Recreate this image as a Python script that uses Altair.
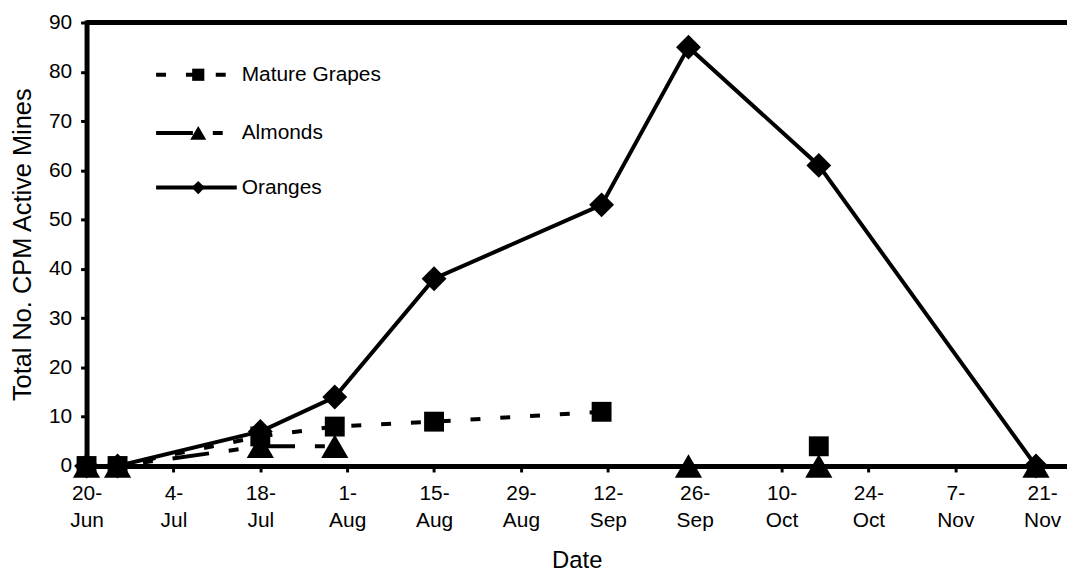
import altair as alt
import pandas as pd

# ---------------- data ----------------
dates = ["2001-06-20", "2001-06-25", "2001-07-18", "2001-07-30", "2001-08-15",
         "2001-09-11", "2001-09-25", "2001-10-16", "2001-11-20"]
mature_grapes = [0, 0, 6, 8, 9, 11, None, 4, None]
almonds = [0, 0, 4, 4, None, None, 0, 0, 0]
oranges = [0, 0, 7, 14, 38, 53, 85, 61, 0]
series_names = ["Mature Grapes", "Almonds", "Oranges"]
series_values = [mature_grapes, almonds, oranges]

tick_dates = ["2001-06-20", "2001-07-04", "2001-07-18", "2001-08-01", "2001-08-15",
              "2001-08-29", "2001-09-12", "2001-09-26", "2001-10-10", "2001-10-24",
              "2001-11-07", "2001-11-21"]
y_ticks = [0, 10, 20, 30, 40, 50, 60, 70, 80, 90]
x_domain = ["2001-06-20", "2001-11-25"]
y_domain = [0, 90]

# ---------------- styles / layout ----------------
FONT = "Liberation Sans"
STYLE = {
    "Mature Grapes": dict(shape="square", size=400, dash=[10, 20], leg_size=150),
    "Almonds": dict(shape="triangle-up", size=750, dash=[37, 20, 10, 20], leg_size=260),
    "Oranges": dict(shape="diamond", size=625, dash=None, leg_size=180),
}
LEG_ROWS = [79.4, 67.6, 56.5]
LEG_X0, LEG_X1 = "2001-07-01T05:00:00Z", "2001-07-14T05:00:00Z"
LEG_XM, LEG_XT = "2001-07-08T00:00:00Z", "2001-07-15T00:00:00Z"


def to_ms(s):
    return int(pd.Timestamp(s, tz="UTC").value // 10**6)


xscale = alt.Scale(type="utc", domain=[to_ms(d) for d in x_domain], nice=False)
yscale = alt.Scale(domain=y_domain, nice=False, zero=True)

xaxis = alt.Axis(
    values=[to_ms(d) for d in tick_dates],
    labelExpr="[utcFormat(datum.value, '%-d') + '-', utcFormat(datum.value, '%b')]",
    labelFont=FONT, labelFontSize=21, labelColor="black", labelLineHeight=27,
    labelPadding=11, labelFlush=False, labelOverlap=False, labelBound=False,
    labelAlign="center",
    tickSize=6, tickWidth=3, tickColor="black",
    domainColor="black", domainWidth=5, domainCap="square",
    grid=False, title="Date", titleFont=FONT, titleFontSize=24,
    titleFontWeight="normal", titleColor="black", titlePadding=18,
)
yaxis = alt.Axis(
    values=y_ticks, labelFont=FONT, labelFontSize=21, labelColor="black",
    labelPadding=9, labelFlush=False, labelOverlap=False,
    tickSize=6, tickWidth=3, tickColor="black",
    domainColor="black", domainWidth=5, domainCap="square",
    grid=False, title="Total No. CPM Active Mines", titleFont=FONT,
    titleFontSize=25.5, titleFontWeight="normal", titleColor="black", titlePadding=13,
)

X = alt.X("date:T", scale=xscale, axis=xaxis)
Y = alt.Y("value:Q", scale=yscale, axis=yaxis)

# ---------------- build tables ----------------
line_rows, point_rows = [], []
for name, vals in zip(series_names, series_values):
    seg = 0
    for d, v in zip(dates, vals):
        if v is None:
            seg += 1
            continue
        line_rows.append({"series": name, "date": d, "value": v, "seg": f"{name}-{seg}"})
        point_rows.append({"series": name, "date": d, "value": v})
lines_df = pd.DataFrame(line_rows)
points_df = pd.DataFrame(point_rows)

leg_line_rows, leg_pt_rows = [], []
for name, ly in zip(series_names, LEG_ROWS):
    leg_line_rows.append({"series": name, "date": LEG_X0, "value": ly})
    leg_line_rows.append({"series": name, "date": LEG_X1, "value": ly})
    leg_pt_rows.append({"series": name, "date": LEG_XM, "value": ly, "tdate": LEG_XT})
leg_lines_df = pd.DataFrame(leg_line_rows)
leg_pts_df = pd.DataFrame(leg_pt_rows)

layers = []

# top frame line at y = 90
frame = alt.Chart(pd.DataFrame({"value": [y_domain[1]]})).mark_rule(
    color="black", strokeWidth=5).encode(y=Y)
layers.append(frame)

for name in series_names:
    st = STYLE[name]
    lk = dict(color="black", strokeWidth=4, strokeCap="butt", strokeJoin="miter")
    if st["dash"]:
        lk["strokeDash"] = st["dash"]
    ln = alt.Chart(lines_df).transform_filter(
        alt.datum.series == name).mark_line(**lk).encode(
        x=X, y=Y, detail="seg:N", order="date:T")
    layers.append(ln)
    # legend line
    lln = alt.Chart(leg_lines_df).transform_filter(
        alt.datum.series == name).mark_line(**lk).encode(x=X, y=Y, order="date:T")
    layers.append(lln)

for name in series_names:
    st = STYLE[name]
    pt = alt.Chart(points_df).transform_filter(
        alt.datum.series == name).mark_point(
        shape=st["shape"], size=st["size"], filled=True, color="black",
        opacity=1, strokeWidth=0).encode(x=X, y=Y)
    layers.append(pt)
    lpt = alt.Chart(leg_pts_df).transform_filter(
        alt.datum.series == name).mark_point(
        shape=st["shape"], size=st["leg_size"], filled=True, color="black",
        opacity=1, strokeWidth=0).encode(x=X, y=Y)
    layers.append(lpt)

leg_text = alt.Chart(leg_pts_df).mark_text(
    font=FONT, fontSize=21, color="black", align="left", baseline="middle").encode(
    x=alt.X("tdate:T", scale=xscale, axis=xaxis), y=Y, text="series:N")
layers.append(leg_text)

chart = alt.layer(*layers).properties(
    width=986, height=446,
    autosize=alt.AutoSizeParams(type="none"),
    padding={"left": 79, "top": 13, "right": 0, "bottom": 105},
    background="white",
).configure_view(strokeWidth=0)

chart.save("out.html", embed_options={"renderer": "svg", "actions": False})
